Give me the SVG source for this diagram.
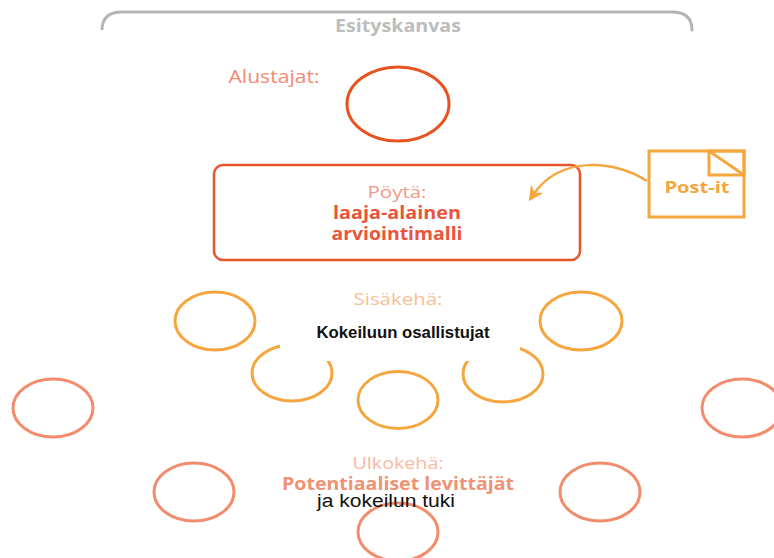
<svg xmlns="http://www.w3.org/2000/svg" width="774" height="558" viewBox="0 0 774 558">
  <style>
    .title { font-family: "Open Sans", "Liberation Sans", sans-serif; text-anchor: middle; }
    .lbl { font-size: 17px; }
    .bold { font-weight: bold; }
    .inner { fill: none; stroke: #f6a63e; stroke-width: 3; }
    .outer { fill: none; stroke: #f28c6c; stroke-width: 3; }
    .note { fill: none; stroke: #f6a63e; stroke-width: 3; }
  </style>
  <defs>
    <marker id="arrowHead" viewBox="0 0 10 10" refX="5" refY="5" markerWidth="6" markerHeight="6" orient="auto">
      <path d="M0,0 L10,5 L0,10 L3,5 Z" fill="#f6a63e"/>
    </marker>
  </defs>
  <rect width="774" height="558" fill="#ffffff"/>

  <!-- canvas bracket -->
  <g id="canvas">
    <path d="M102,29 L102,30 Q102,12 122,12 L672,12 Q692,12 692,30" fill="none" stroke="#b4b4b4" stroke-width="3" stroke-linecap="round"/>
    <text class="title bold" x="398" y="32" font-size="17" fill="#bdbdbd" textLength="126" lengthAdjust="spacingAndGlyphs">Esityskanvas</text>
  </g>

  <!-- hosts -->
  <g id="alustajat">
    <text class="title" x="274" y="83" font-size="18" fill="#f28a72" textLength="91" lengthAdjust="spacingAndGlyphs">Alustajat:</text>
    <ellipse cx="398" cy="104" rx="51" ry="37" fill="none" stroke="#e8521e" stroke-width="3"/>
  </g>

  <!-- table -->
  <g id="poyta">
    <rect x="214" y="165" width="366" height="95" rx="9" fill="none" stroke="#e8552a" stroke-width="2.5"/>
    <text class="title lbl" x="397" y="198" fill="#f29a86" textLength="59" lengthAdjust="spacingAndGlyphs">Pöytä:</text>
    <text class="title lbl bold" x="397" y="219" fill="#e8553c" textLength="128" lengthAdjust="spacingAndGlyphs">laaja-alainen</text>
    <text class="title lbl bold" x="397" y="240" fill="#e8553c" textLength="131" lengthAdjust="spacingAndGlyphs">arviointimalli</text>
  </g>

  <!-- sticky note -->
  <g id="postit">
    <rect x="649" y="151" width="95" height="66" fill="#ffffff" class="note"/>
    <rect x="709" y="151" width="35" height="24" class="note"/>
    <line x1="709" y1="151" x2="744" y2="175" class="note"/>
    <text class="title bold" x="697" y="193" font-size="16" fill="#f6a63e" textLength="65" lengthAdjust="spacingAndGlyphs">Post-it</text>
  </g>

  <!-- connectors -->
  <g id="connectors">
    <path d="M647,181 C615,160 560,155 533,195" fill="none" stroke="#f6a63e" stroke-width="2.5" marker-end="url(#arrowHead)"/>
  </g>

  <!-- inner ring -->
  <g id="sisakeha">
    <ellipse class="inner" cx="215" cy="321" rx="40" ry="29"/>
    <ellipse class="inner" cx="581" cy="321" rx="41" ry="29"/>
    <ellipse class="inner" cx="292" cy="373" rx="40" ry="28"/>
    <ellipse class="inner" cx="503" cy="374" rx="40" ry="28"/>
    <ellipse class="inner" cx="398" cy="400" rx="40" ry="28.5"/>
    <rect x="280" y="314" width="240" height="47" fill="#ffffff"/>
    <text class="title lbl" x="398" y="305" fill="#f8c092" textLength="89" lengthAdjust="spacingAndGlyphs">Sisäkehä:</text>
    <text x="403" y="338" font-family="'Liberation Sans', Arial, sans-serif" font-weight="bold" font-size="16" text-anchor="middle" fill="#111111" textLength="173" lengthAdjust="spacingAndGlyphs">Kokeiluun osallistujat</text>
  </g>

  <!-- outer ring -->
  <g id="ulkokeha">
    <ellipse class="outer" cx="53" cy="408" rx="40" ry="29"/>
    <ellipse class="outer" cx="742" cy="408" rx="40" ry="29"/>
    <ellipse class="outer" cx="194" cy="492" rx="40" ry="29"/>
    <ellipse class="outer" cx="600" cy="492" rx="40" ry="29"/>
    <ellipse class="outer" cx="398" cy="532" rx="40" ry="29"/>
    <text class="title lbl" x="398" y="469" fill="#f8b8a2" textLength="91" lengthAdjust="spacingAndGlyphs">Ulkokehä:</text>
    <text class="title lbl bold" x="398" y="490" fill="#f09274" textLength="232" lengthAdjust="spacingAndGlyphs">Potentiaaliset levittäjät</text>
    <text x="386" y="507" font-family="'Liberation Sans', Arial, sans-serif" font-size="18" text-anchor="middle" fill="#111111" textLength="138" lengthAdjust="spacingAndGlyphs">ja kokeilun tuki</text>
  </g>
</svg>
